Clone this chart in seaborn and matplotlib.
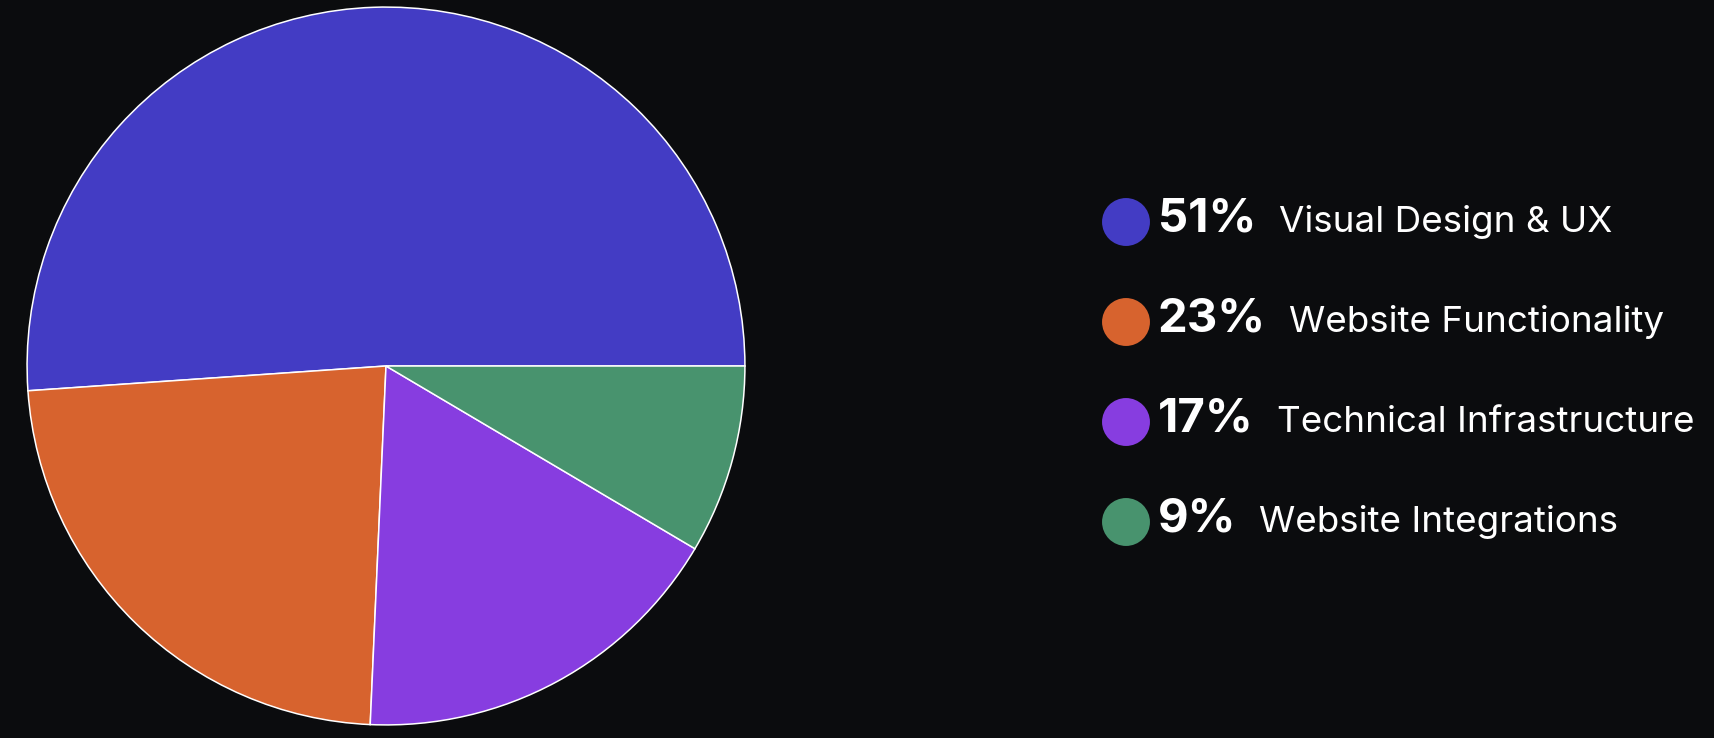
import matplotlib
matplotlib.use("Agg")
import matplotlib.pyplot as plt
import seaborn as sns
import pandas as pd

categories = ["Visual Design & UX", "Website Functionality", "Technical Infrastructure", "Website Integrations"]
shares = [51.1, 23.2, 17.2, 8.5]
pct_labels = ["51%", "23%", "17%", "9%"]
colors = ["#433CC4", "#D7632E", "#873DE0", "#48936E"]

BG = "#0B0C0E"
sns.set_theme(style="dark")
plt.rcParams["font.family"] = ["Inter", "DejaVu Sans"]

W, H = 1714, 738
fig = plt.figure(figsize=(W / 100, H / 100), dpi=100, facecolor=BG)

# Pie axes (pixel box)
cx, cy, r = 386, 366, 360
ax = fig.add_axes([(cx - r) / W, (H - cy - r) / H, 2 * r / W, 2 * r / H])
ax.set_facecolor(BG)
ax.pie(shares, colors=colors, startangle=0, counterclock=True,
       wedgeprops=dict(edgecolor="white", linewidth=1.1), radius=1.0)
ax.set_xlim(-1.003, 1.003)
ax.set_ylim(-1.003, 1.003)
ax.set_aspect("equal")
ax.axis("off")

# Legend axes in pixel coordinates
lax = fig.add_axes([0, 0, 1, 1])
lax.patch.set_alpha(0)

row0, step = 222, 100
dot_x = 1126
df = pd.DataFrame({
    "cat": categories,
    "x": [dot_x] * len(categories),
    "y": [row0 + i * step for i in range(len(categories))],
})
sns.scatterplot(data=df, x="x", y="y", hue="cat", palette=colors, s=1190,
                linewidth=0, legend=False, ax=lax)
lax.set_xlim(0, W)
lax.set_ylim(H, 0)
lax.set_xlabel("")
lax.set_ylabel("")
lax.axis("off")

fig.canvas.draw()
renderer = fig.canvas.get_renderer()
for i, (p, c) in enumerate(zip(pct_labels, categories)):
    y = row0 + i * step + 10
    t = lax.text(1158, y, p, color="white", fontsize=34, fontweight="bold",
                 va="baseline", ha="left")
    bb = t.get_window_extent(renderer)
    lax.text(bb.x1 + 23, y, c, color="white", fontsize=26.5,
             va="baseline", ha="left")

fig.savefig("out.png", dpi=100, facecolor=BG)
